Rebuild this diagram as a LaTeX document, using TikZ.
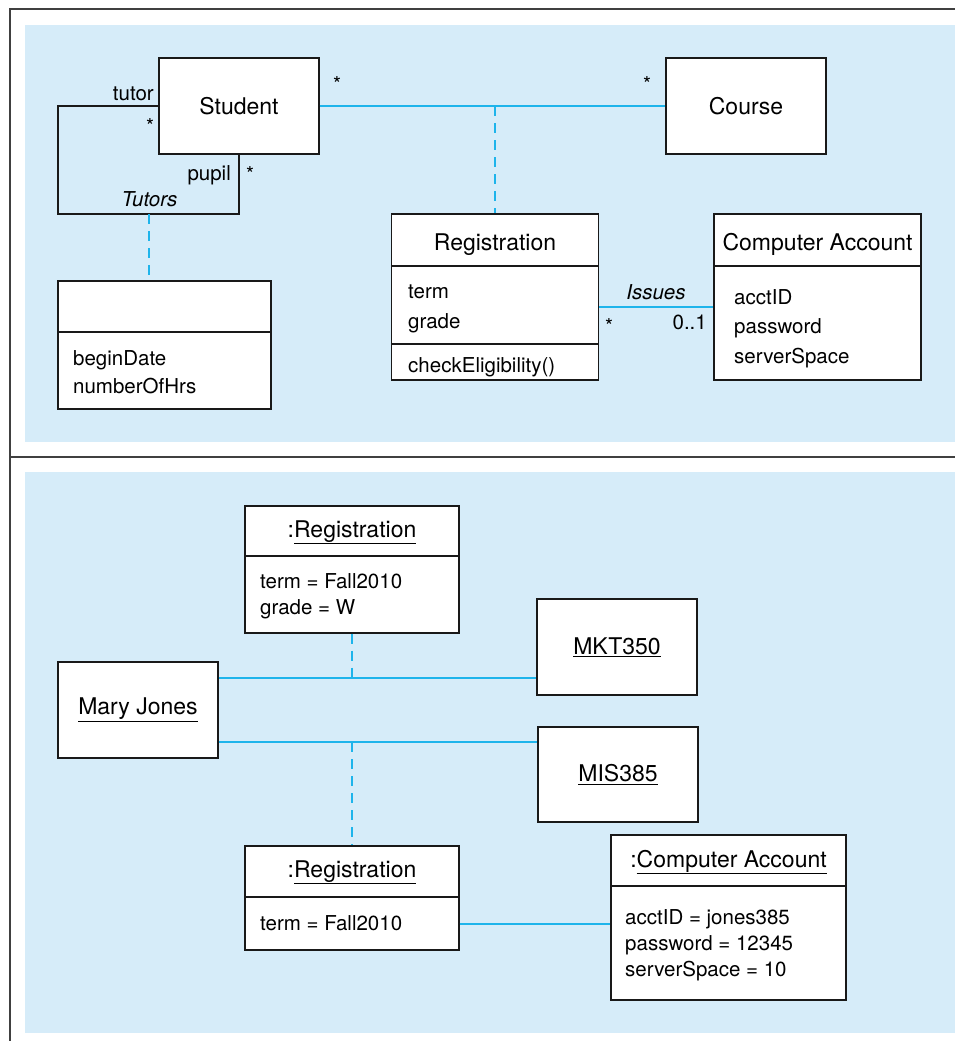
\documentclass[tikz,border=0pt]{standalone}
\usepackage{fontspec}
\setmainfont{TeX Gyre Heros}
\usepackage{tikz}
\tikzset{>=latex}
\usepackage{xcolor}
\definecolor{panelblue}{RGB}{214,236,249}
\definecolor{linkcyan}{RGB}{30,180,235}
\colorlet{boxcol}{black!90}
\colorlet{framecol}{black!75}

\tikzset{
    umlbox/.style={draw=boxcol, fill=white, line width=1.4pt, inner sep=0pt, font=\fontsize{23}{27}\selectfont},
    clsname/.style={inner sep=0pt, anchor=base, font=\fontsize{23}{27}\selectfont},
    attrtext/.style={inner sep=0pt, anchor=base west, font=\fontsize{20.5}{25}\selectfont},
    multtext/.style={inner sep=0pt, font=\fontsize{20.5}{25}\selectfont},
    assoc/.style={draw=linkcyan, line width=1.5pt},
    assocdash/.style={draw=linkcyan, line width=1.5pt, dash pattern=on 10pt off 7pt},
    selfassoc/.style={draw=boxcol, line width=1.4pt},
    frameline/.style={draw=framecol, line width=2pt},
}

\begin{document}
\begin{tikzpicture}[x=1pt, y=-1pt]
    \useasboundingbox (0,0) rectangle (955,1041);
    \fill[panelblue] (25,25) rectangle (955,442);
    \fill[panelblue] (25,472) rectangle (955,1033);
    \draw[frameline] (10,1041) -- (10,9) -- (955,9);
    \draw[frameline] (10,457) -- (955,457);

    % class diagram
    \begin{scope}
        \node[umlbox, minimum width=160pt, minimum height=96pt] (student) at (239,106) {Student};
        \node[umlbox, minimum width=160pt, minimum height=96pt] (course) at (746,106) {Course};

        \node[umlbox, minimum width=207pt, minimum height=166pt] (reg) at (495,297) {};
        \draw[boxcol, line width=1.4pt] (reg.west |- 0,266) -- (reg.east |- 0,266);
        \draw[boxcol, line width=1.4pt] (reg.west |- 0,344) -- (reg.east |- 0,344);
        \node[clsname] (regname) at (495,250) {Registration};
        \node[attrtext] (regterm) at (408,298) {term};
        \node[attrtext] (reggrade) at (408,328) {grade};
        \node[attrtext] (regcheck) at (408,372) {checkEligibility()};

        \node[umlbox, minimum width=207pt, minimum height=166pt] (acct) at (817.5,297) {};
        \draw[boxcol, line width=1.4pt] (acct.west |- 0,266) -- (acct.east |- 0,266);
        \node[clsname] (acctname) at (817.5,250) {Computer Account};
        \node[attrtext] (acctid) at (734,304) {acctID};
        \node[attrtext] (acctpw) at (734,333) {password};
        \node[attrtext] (acctspace) at (734,363) {serverSpace};

        \node[umlbox, minimum width=213pt, minimum height=128pt] (tutbox) at (164.5,345) {};
        \draw[boxcol, line width=1.4pt] (tutbox.west |- 0,332) -- (tutbox.east |- 0,332);
        \node[attrtext] (tutbegin) at (73,365) {beginDate};
        \node[attrtext] (tuthrs) at (73,393) {numberOfHrs};

        % associations
        \draw[assoc] (student) -- (course);
        \draw[assocdash] (reg.north |- student.east) -- (reg.north);
        \draw[assoc] ([yshift=-10pt]reg.east) coordinate (issuesA) -- (issuesA -| acct.west);

        \coordinate (tutorsmid) at (149,214);
        \draw[selfassoc] (student.west) -| ([xshift=-91pt]tutorsmid) -- (student.south |- tutorsmid) -- (student.south);
        \draw[assocdash] (tutorsmid) -- (tutorsmid |- tutbox.north);

        \node[multtext, anchor=base east] (tutorlbl) at (154,100) {tutor};
        \node[multtext, anchor=base] (tutormult) at (150,133) {*};
        \node[multtext, anchor=base east] (pupillbl) at (231,180) {pupil};
        \node[multtext, anchor=base] (pupilmult) at (250,181) {*};
        \node[multtext, anchor=base, font=\fontsize{20.5}{25}\selectfont\itshape] (tutorslbl) at (149.5,206) {Tutors};
        \node[multtext, anchor=base] (studmult) at (337,91) {*};
        \node[multtext, anchor=base] (coursemult) at (647,91) {*};
        \node[multtext, anchor=base, font=\fontsize{20.5}{25}\selectfont\itshape] (issueslbl) at (656,299) {Issues};
        \node[multtext, anchor=base] (regmult) at (609,333) {*};
        \node[multtext, anchor=base east] (acctmult) at (707,329) {0..1};
    \end{scope}

    % object diagram
    \begin{scope}
        \node[umlbox, minimum width=160pt, minimum height=96pt] (mary) at (138,710) {\underline{Mary Jones}};
        \node[umlbox, minimum width=160pt, minimum height=96pt] (mkt) at (617,647) {\underline{MKT350}};
        \node[umlbox, minimum width=160pt, minimum height=95pt] (mis) at (618,774.5) {\underline{MIS385}};

        \node[umlbox, minimum width=214pt, minimum height=127pt] (regA) at (352,569.5) {};
        \draw[boxcol, line width=1.4pt] (regA.west |- 0,556) -- (regA.east |- 0,556);
        \node[clsname] (regAname) at (352,537) {:\underline{Registration}};
        \node[attrtext] (regAterm) at (260,588) {term = Fall2010};
        \node[attrtext] (regAgrade) at (260,614) {grade = W};

        \node[umlbox, minimum width=214pt, minimum height=104pt] (regB) at (352,898) {};
        \draw[boxcol, line width=1.4pt] (regB.west |- 0,897) -- (regB.east |- 0,897);
        \node[clsname] (regBname) at (352,877) {:\underline{Registration}};
        \node[attrtext] (regBterm) at (260,930) {term = Fall2010};

        \node[umlbox, minimum width=235pt, minimum height=165pt] (acctobj) at (728.5,917.5) {};
        \draw[boxcol, line width=1.4pt] (acctobj.west |- 0,886) -- (acctobj.east |- 0,886);
        \node[clsname] (acctobjname) at (728.5,867) {:\underline{Computer Account}};
        \node[attrtext] (acctobjid) at (625,924) {acctID = jones385};
        \node[attrtext] (acctobjpw) at (625,950) {password = 12345};
        \node[attrtext] (acctobjspace) at (625,976) {serverSpace = 10};

        % links
        \draw[assoc] ([yshift=32pt]mary.east) coordinate (takesA) -- (takesA -| mkt.west);
        \draw[assoc] ([yshift=-32pt]mary.east) coordinate (takesB) -- (takesB -| mis.west);
        \draw[assocdash] (regA.south) -- (regA.south |- takesA);
        \draw[assocdash] (regB.north |- takesB) -- (regB.north);
        \draw[assoc] ([yshift=-26pt]regB.east) coordinate (issuesB) -- (issuesB -| acctobj.west);
    \end{scope}

\end{tikzpicture}
\end{document}
